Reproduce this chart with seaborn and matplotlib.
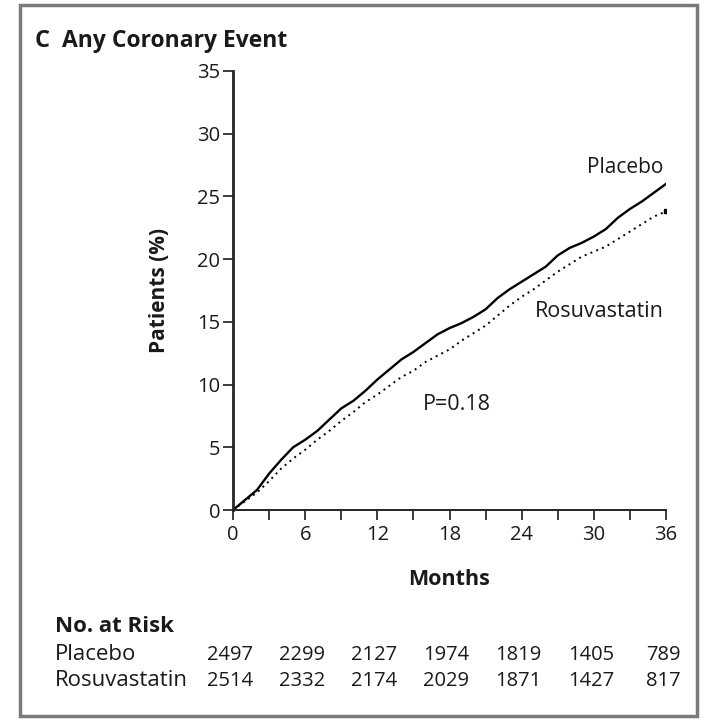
import matplotlib
matplotlib.use("Agg")
import matplotlib.pyplot as plt
from matplotlib.patches import Rectangle
from matplotlib.ticker import MultipleLocator
import matplotlib.transforms as mtransforms
import numpy as np
import pandas as pd
import seaborn as sns

# ---------------- data ----------------
months = list(range(0, 37))
placebo = [0, 0.8, 1.6, 2.9, 4.0, 5.0, 5.6, 6.3, 7.2, 8.1, 8.7, 9.5, 10.4,
           11.2, 12.0, 12.6, 13.3, 14.0, 14.5, 14.9, 15.4, 16.0, 16.9, 17.6,
           18.2, 18.8, 19.4, 20.3, 20.9, 21.3, 21.8, 22.4, 23.3, 24.0, 24.6,
           25.3, 26.0]
rosuvastatin = [0, 0.7, 1.4, 2.3, 3.3, 4.1, 4.8, 5.6, 6.3, 7.1, 7.8, 8.6, 9.2,
                9.9, 10.6, 11.1, 11.8, 12.3, 12.8, 13.5, 14.1, 14.7, 15.5, 16.3,
                17.0, 17.6, 18.3, 19.0, 19.6, 20.2, 20.6, 21.0, 21.6, 22.2, 22.8,
                23.4, 23.8]
risk_months = [0, 6, 12, 18, 24, 30, 36]
risk_placebo = [2497, 2299, 2127, 1974, 1819, 1405, 789]
risk_rosuvastatin = [2514, 2332, 2174, 2029, 1871, 1427, 817]
group_names = ["Placebo", "Rosuvastatin"]

# ---------------- style ----------------
sns.set_theme(style="ticks")
plt.rcParams["font.family"] = ["Open Sans", "DejaVu Sans"]
TXT = "#1a1a1a"

fig = plt.figure(figsize=(7.07, 7.21), dpi=100)
ax = fig.add_axes([233 / 707, 1 - 510 / 721, 433 / 707, 439 / 721])

df = pd.DataFrame({
    "Months": months * 2,
    "Pct": placebo + rosuvastatin,
    "Group": [group_names[0]] * len(months) + [group_names[1]] * len(months),
})
sns.lineplot(data=df[df.Group == "Placebo"], x="Months", y="Pct", ax=ax,
             color="black", lw=1.7, legend=False)
sns.lineplot(data=df[df.Group == "Rosuvastatin"], x="Months", y="Pct", ax=ax,
             color="black", lw=1.4, linestyle=(0, (1, 2.2)), legend=False)
ax.plot(months[-1:], rosuvastatin[-1:], marker="s", color="black", ms=3, ls="none")

ax.set_xlim(0, 36)
ax.set_ylim(0, 35)
ax.set_xticks(range(0, 37, 6))
ax.xaxis.set_minor_locator(MultipleLocator(3))
ax.set_yticks(range(0, 36, 5))
for s in ["top", "right"]:
    ax.spines[s].set_visible(False)
ax.spines["left"].set_linewidth(2.0)
ax.spines["bottom"].set_linewidth(1.4)
ax.tick_params(axis="both", which="both", direction="out", length=7,
               width=1.2, colors=TXT, labelsize=14.5)
ax.tick_params(axis="x", which="both", length=7, pad=4)
ax.tick_params(axis="y", pad=2)

ax.set_xlabel("Months", fontsize=15.5, fontweight="bold", color=TXT)
ax.set_ylabel("Patients (%)", fontsize=15, fontweight="bold", color=TXT)
ax.xaxis.set_label_coords(0.5, -(569 - 510) / 439)
ax.yaxis.set_label_coords((170 - 233) / 433, 0.5)

# curve labels
ax.text(35.8, 27.3, "Placebo", ha="right", va="center", fontsize=15, color=TXT)
ax.text(35.8, 15.8, "Rosuvastatin", ha="right", va="center", fontsize=15.5, color=TXT)
ax.text(18.6, 8.4, "P=0.18", ha="center", va="center", fontsize=15.5, color=TXT)

# title
fig.text(35 / 707, 1 - 41 / 721, "C", fontsize=17, fontweight="bold",
         color=TXT, va="center", ha="left")
fig.text(62 / 707, 1 - 41 / 721, "Any Coronary Event", fontsize=16.5,
         fontweight="bold", color=TXT, va="center", ha="left")

# number at risk table
blend = mtransforms.blended_transform_factory(ax.transData, fig.transFigure)
fig.text(55 / 707, 1 - 626 / 721, "No. at Risk", fontsize=16,
         fontweight="bold", color=TXT, va="center", ha="left")
rows = [(group_names[0], risk_placebo, 1 - 655 / 721),
        (group_names[1], risk_rosuvastatin, 1 - 681 / 721)]
for name, vals, yy in rows:
    fig.text(55 / 707, yy, name, fontsize=16, color=TXT, va="center", ha="left")
    for m, v in zip(risk_months, vals):
        ax.text(m - 0.25, yy, f"{v}", transform=blend, fontsize=14.5,
                color=TXT, va="center", ha="center", clip_on=False)

# outer frame
fig.patches.append(Rectangle((20 / 707, 1 - 716 / 721), 677 / 707, 711 / 721,
                             transform=fig.transFigure, fill=False,
                             edgecolor="#7a7a7a", lw=2.5))

fig.savefig("out.png", dpi=100)
